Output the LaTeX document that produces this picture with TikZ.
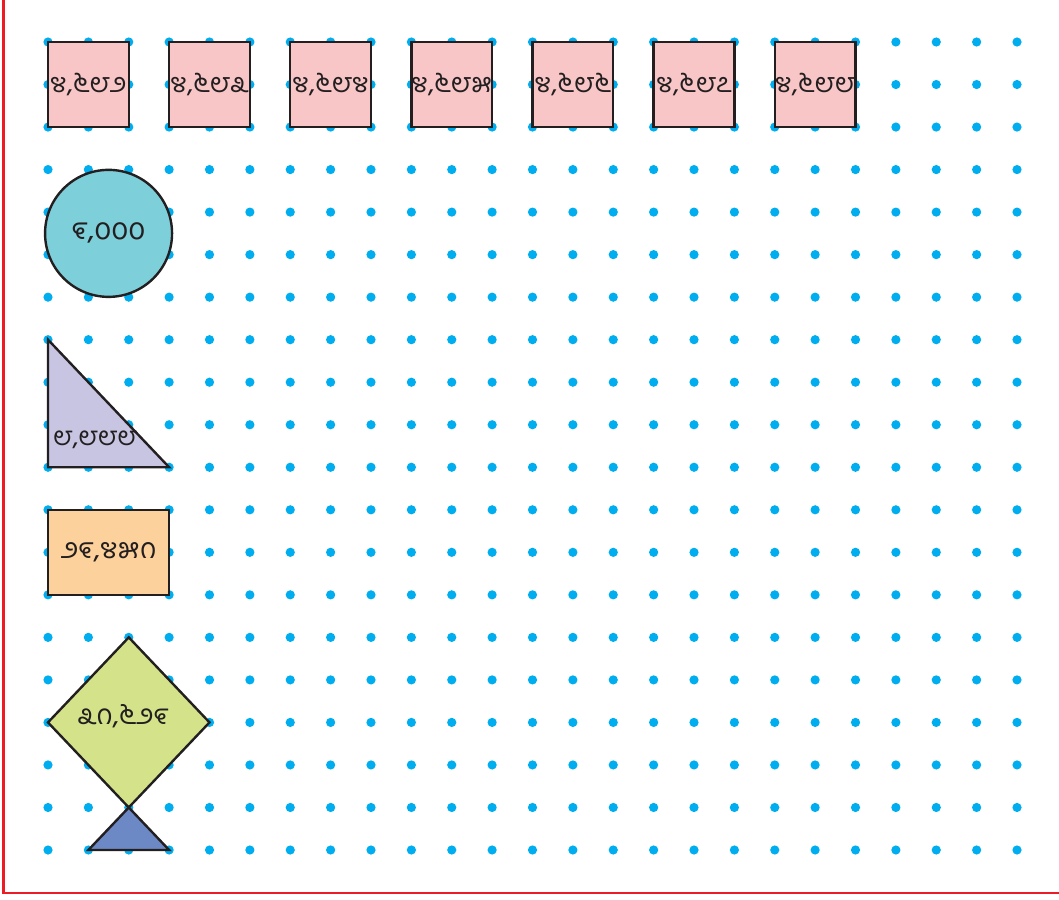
\documentclass[tikz,border=0pt]{standalone}
\usepackage{fontspec}
\newfontfamily\kn[Script=Kannada]{Hind Mysuru}
\definecolor{dotblue}{HTML}{00AEEF}
\definecolor{edge}{HTML}{231F20}
\definecolor{pinkf}{HTML}{F8C6C6}
\definecolor{tealf}{HTML}{7DCFDA}
\definecolor{lavf}{HTML}{C7C5E2}
\definecolor{orangef}{HTML}{FDD19C}
\definecolor{greenf}{HTML}{D4E38A}
\definecolor{bluef}{HTML}{6C89C5}
\definecolor{redline}{HTML}{ED1C24}
\begin{document}
\begin{tikzpicture}[x=1pt,y=-1pt,
  shapeline/.style={draw=edge,line width=2.4pt,line join=miter},
  knfont/.style={font=\kn\fontsize{#1}{#1}\selectfont,text=edge},
  lbl/.style={knfont=#1,inner sep=0pt},
  pinkbox/.style={shapeline,fill=pinkf,minimum width=80.75pt,minimum height=85pt,inner sep=0pt,knfont=27},
]
\def\dx{40.375}
\def\dy{42.526}
\useasboundingbox (0,0) rectangle (1059,899);
% dot grid
\foreach \i in {0,...,24}{
  \foreach \j in {0,...,19}{
    \fill[dotblue] ({48+\i*\dx},{42+\j*\dy}) circle (4.6pt);
  }
}
% border lines
\draw[redline,line width=2.6pt] (3.5,0) -- (3.5,893) -- (1059,893);
% pink squares
\foreach \k/\t in {0/{೪,೬೮೨},1/{೪,೬೮೩},2/{೪,೬೮೪},3/{೪,೬೮೫},4/{೪,೬೮೬},5/{೪,೬೮೭},6/{೪,೬೮೮}}{
  \node[pinkbox] (sq\k) at ({48+(3*\k+1)*\dx},{42+\dy}) {\t};
}
% circle
\node[shapeline,fill=tealf,circle,minimum size=127pt,inner sep=0pt,knfont=30] (circ) at ({48+1.5*\dx},{42+4.5*\dy}) {೯,೦೦೦};
% right triangle
\coordinate (ta) at (48,{42+7*\dy});
\coordinate (tb) at (48,{42+10*\dy});
\coordinate (tc) at ({48+3*\dx},{42+10*\dy});
\draw[shapeline,fill=lavf] (ta) -- (tb) -- (tc) -- cycle;
\node[lbl=26] (tri) at (95,440) {೮,೮೮೮};
% rectangle
\node[shapeline,fill=orangef,minimum width=121.1pt,minimum height=85pt,inner sep=0pt,knfont=28.5] (rect) at ({48+1.5*\dx},{42+12*\dy}) {೨೯,೪೫೧};
% diamond
\coordinate (dt) at ({48+2*\dx},{42+14*\dy});
\coordinate (dl) at (48,{42+16*\dy});
\coordinate (dr) at ({48+4*\dx},{42+16*\dy});
\coordinate (db) at ({48+2*\dx},{42+18*\dy});
\draw[shapeline,fill=greenf] (dt) -- (dr) -- (db) -- (dl) -- cycle;
\node[lbl=28] (dia) at (123,716) {೩೧,೬೨೯};
% small triangle
\coordinate (sl) at ({48+1*\dx},{42+19*\dy});
\coordinate (sr) at ({48+3*\dx},{42+19*\dy});
\draw[shapeline,fill=bluef] (db) -- (sr) -- (sl) -- cycle;
\end{tikzpicture}
\end{document}
